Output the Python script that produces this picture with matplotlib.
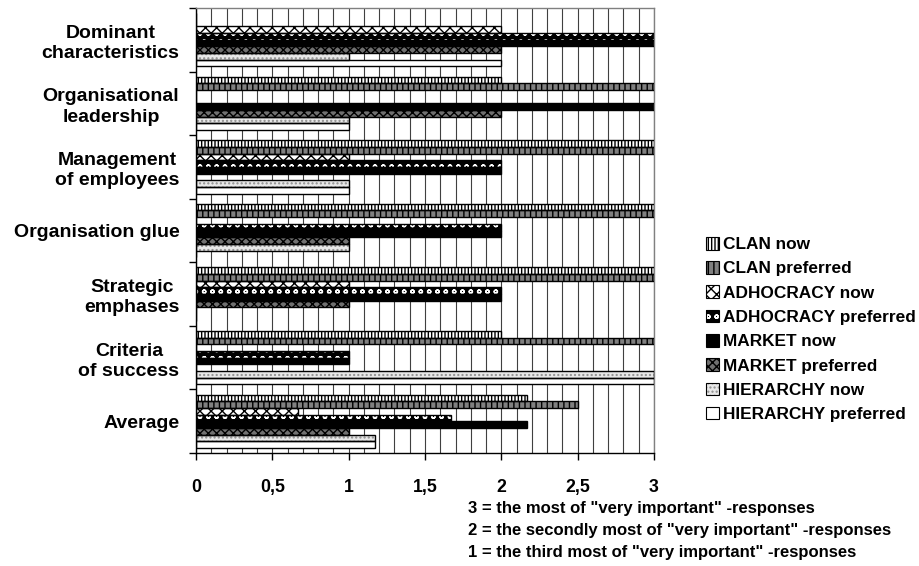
import matplotlib
matplotlib.use("Agg")
import matplotlib.pyplot as plt
from matplotlib.patches import Patch
from matplotlib.ticker import MultipleLocator, FuncFormatter

plt.rcParams['font.family'] = ['Liberation Sans', 'DejaVu Sans']
plt.rcParams['font.weight'] = 'bold'
plt.rcParams['hatch.linewidth'] = 1.0

categories = ["Dominant\ncharacteristics", "Organisational\nleadership",
              "Management\nof employees", "Organisation glue",
              "Strategic\nemphases", "Criteria\nof success", "Average"]

series_names = ["CLAN now", "CLAN preferred", "ADHOCRACY now", "ADHOCRACY preferred",
                "MARKET now", "MARKET preferred", "HIERARCHY now", "HIERARCHY preferred"]

# one list per series, values per category (top to bottom)
clan_now = [0, 2, 3, 3, 3, 2, 2.17]
clan_pref = [0, 3, 3, 3, 3, 3, 2.5]
adhoc_now = [2, 0, 1, 0, 1, 0, 0.67]
adhoc_pref = [3, 0, 2, 2, 2, 1, 1.67]
market_now = [3, 3, 2, 2, 2, 1, 2.17]
market_pref = [2, 2, 0, 1, 1, 0, 1.0]
hier_now = [1, 1, 1, 1, 0, 3, 1.17]
hier_pref = [2, 1, 1, 0, 0, 3, 1.17]

values = [clan_now, clan_pref, adhoc_now, adhoc_pref,
          market_now, market_pref, hier_now, hier_pref]

# (face colour, hatch, hatch colour) for each series
styles = [
    ("white", "|||||", "black"),
    ("#808080", "|||", "black"),
    ("white", "xxx", "black"),
    ("black", "oo", "white"),
    ("black", None, "black"),
    ("#707070", "xxxx", "black"),
    ("#e8e8e8", "....", "#909090"),
    ("white", None, "black"),
]

fig = plt.figure(figsize=(9.2, 5.66), dpi=100)
ax = fig.add_axes([196/920, 1 - 453/566, 458/920, 445/566])

n = len(series_names)
bar_h = 0.105
ys = range(len(categories))

handles = []
for j, (vals, (fc, hatch, hc)) in enumerate(zip(values, styles)):
    offs = -n * bar_h / 2 + (j + 0.5) * bar_h
    pos = [y + offs for y in ys]
    ax.barh(pos, vals, height=bar_h, color=fc, hatch=hatch, edgecolor=hc,
            linewidth=0, zorder=2)
    ax.barh(pos, vals, height=bar_h, fill=False, edgecolor="black",
            linewidth=1, zorder=3)
    handles.append((Patch(facecolor=fc, hatch=hatch, edgecolor=hc, linewidth=0),
                    Patch(fill=False, edgecolor="black", linewidth=0.8)))

ax.set_xlim(0, 3)
ax.set_ylim(len(categories) - 0.5, -0.5)

ax.xaxis.set_major_locator(MultipleLocator(0.5))
ax.xaxis.set_minor_locator(MultipleLocator(0.1))
ax.xaxis.set_major_formatter(FuncFormatter(lambda v, p: f"{v:g}".replace(".", ",")))
ax.tick_params(axis="x", which="major", length=5, width=1, pad=13.5, labelsize=12.8)
ax.tick_params(axis="x", which="minor", length=0)
ax.grid(axis="x", which="both", color="#404040", linewidth=0.8, zorder=1)
ax.set_axisbelow(True)

ax.set_yticks(list(ys))
ax.set_yticklabels(categories, fontsize=14, ha="right", multialignment="center",
                   linespacing=1.25)
ax.set_yticks([y - 0.5 for y in ys] + [len(categories) - 0.5], minor=True)
ax.tick_params(axis="y", which="major", length=0, pad=12)
ax.tick_params(axis="y", which="minor", length=5, width=1)

for side in ("left", "bottom"):
    ax.spines[side].set_color("black")
    ax.spines[side].set_linewidth(1)
for side in ("top", "right"):
    ax.spines[side].set_color("#808080")
    ax.spines[side].set_linewidth(1)

fig.legend(handles, series_names, loc="upper left", bbox_to_anchor=(699/920, 1 - 230/566),
           frameon=False, fontsize=12.4, handlelength=0.75, handleheight=0.75,
           handletextpad=0.25, labelspacing=0.52, borderaxespad=0)

notes = ['3 = the most of "very important" -responses',
         '2 = the secondly most of "very important" -responses',
         '1 = the third most of "very important" -responses']
for k, line in enumerate(notes):
    fig.text(468/920, 1 - (509 + 22*k)/566, line, fontsize=12, va="center", ha="left")

fig.savefig("out.png", dpi=100)
